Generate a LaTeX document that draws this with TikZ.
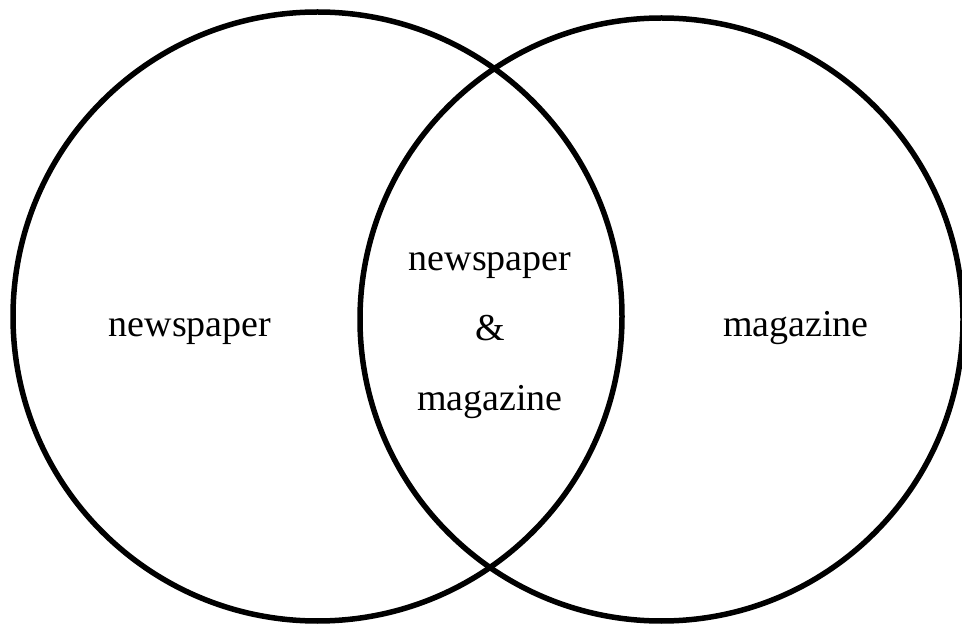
\documentclass[tikz,border=0pt]{standalone}
\usepackage{fontspec}
\setmainfont{Liberation Serif}
\begin{document}
\begin{tikzpicture}[x=1pt,y=-1pt,
  ring/.style={draw=black,line width=5.5pt},
  lbl/.style={font=\fontsize{38}{44}\selectfont,inner sep=0pt,anchor=base}]
\useasboundingbox (0,0) rectangle (962,628);
\draw[ring] (317.5,316.5) circle[radius=304.5];
\draw[ring] (661.5,319.5) circle[radius=301.5];
\node[lbl] (left) at (190,337) {newspaper};
\node[lbl] (right) at (796,337) {magazine};
\node[lbl] (c1) at (490,271) {newspaper};
\node[lbl] (c2) at (490,341) {\&};
\node[lbl] (c3) at (490,411) {magazine};
\end{tikzpicture}
\end{document}
